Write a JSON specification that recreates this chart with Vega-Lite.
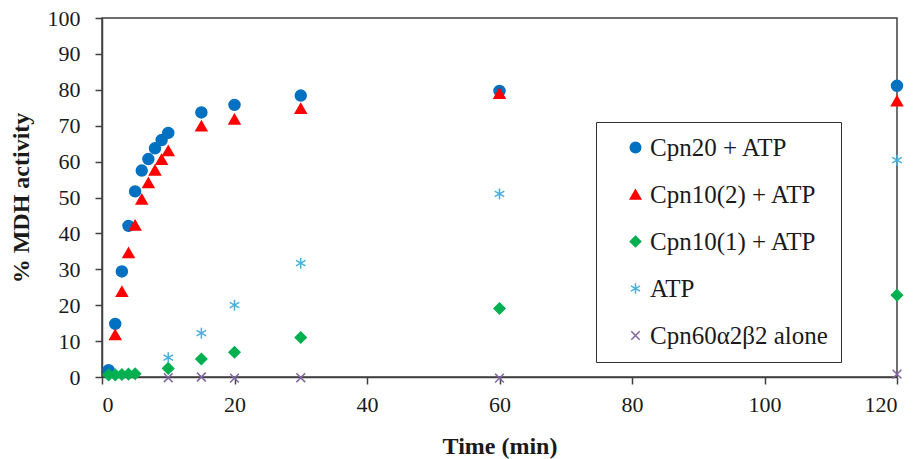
{
  "$schema": "https://vega.github.io/schema/vega-lite/v6.json",
  "width": 795,
  "height": 359,
  "autosize": {"type": "none"},
  "padding": {"left": 102, "top": 18, "right": 22, "bottom": 82},
  "background": "white",
  "config": {
    "font": "Liberation Serif",
    "view": {"stroke": "#404040", "strokeWidth": 1.5},
    "axis": {
      "domainColor": "#404040",
      "domainWidth": 1.5,
      "tickColor": "#404040",
      "tickWidth": 1.5,
      "tickSize": 7,
      "grid": false,
      "labelFont": "Liberation Serif",
      "labelFontSize": 22,
      "labelColor": "#1a1a1a",
      "titleFont": "Liberation Serif",
      "titleFontSize": 24,
      "titleFontWeight": "bold",
      "titleColor": "#1a1a1a"
    },
    "legend": {
      "labelFont": "Liberation Serif",
      "labelFontSize": 25,
      "labelColor": "#1a1a1a"
    }
  },
  "data": {
    "values": [
      {"series": "Cpn20 + ATP", "time": 1, "activity": 1.9},
      {"series": "Cpn20 + ATP", "time": 2, "activity": 14.8},
      {"series": "Cpn20 + ATP", "time": 3, "activity": 29.4},
      {"series": "Cpn20 + ATP", "time": 4, "activity": 42.1},
      {"series": "Cpn20 + ATP", "time": 5, "activity": 51.7},
      {"series": "Cpn20 + ATP", "time": 6, "activity": 57.5},
      {"series": "Cpn20 + ATP", "time": 7, "activity": 60.7},
      {"series": "Cpn20 + ATP", "time": 8, "activity": 63.7},
      {"series": "Cpn20 + ATP", "time": 9, "activity": 66.0},
      {"series": "Cpn20 + ATP", "time": 10, "activity": 68.0},
      {"series": "Cpn20 + ATP", "time": 15, "activity": 73.7},
      {"series": "Cpn20 + ATP", "time": 20, "activity": 75.8},
      {"series": "Cpn20 + ATP", "time": 30, "activity": 78.4},
      {"series": "Cpn20 + ATP", "time": 60, "activity": 79.7},
      {"series": "Cpn20 + ATP", "time": 120, "activity": 81.1},
      {"series": "Cpn10(2) + ATP", "time": 2, "activity": 11.8},
      {"series": "Cpn10(2) + ATP", "time": 3, "activity": 23.8},
      {"series": "Cpn10(2) + ATP", "time": 4, "activity": 34.6},
      {"series": "Cpn10(2) + ATP", "time": 5, "activity": 42.3},
      {"series": "Cpn10(2) + ATP", "time": 6, "activity": 49.5},
      {"series": "Cpn10(2) + ATP", "time": 7, "activity": 54.1},
      {"series": "Cpn10(2) + ATP", "time": 8, "activity": 57.6},
      {"series": "Cpn10(2) + ATP", "time": 9, "activity": 60.6},
      {"series": "Cpn10(2) + ATP", "time": 10, "activity": 63.0},
      {"series": "Cpn10(2) + ATP", "time": 15, "activity": 69.9},
      {"series": "Cpn10(2) + ATP", "time": 20, "activity": 71.8},
      {"series": "Cpn10(2) + ATP", "time": 30, "activity": 74.8},
      {"series": "Cpn10(2) + ATP", "time": 60, "activity": 79.0},
      {"series": "Cpn10(2) + ATP", "time": 120, "activity": 76.9},
      {"series": "Cpn10(1) + ATP", "time": 1, "activity": 0.6},
      {"series": "Cpn10(1) + ATP", "time": 2, "activity": 0.6},
      {"series": "Cpn10(1) + ATP", "time": 3, "activity": 0.7},
      {"series": "Cpn10(1) + ATP", "time": 4, "activity": 0.8},
      {"series": "Cpn10(1) + ATP", "time": 5, "activity": 0.9},
      {"series": "Cpn10(1) + ATP", "time": 10, "activity": 2.4},
      {"series": "Cpn10(1) + ATP", "time": 15, "activity": 5.0},
      {"series": "Cpn10(1) + ATP", "time": 20, "activity": 6.9},
      {"series": "Cpn10(1) + ATP", "time": 30, "activity": 11.0},
      {"series": "Cpn10(1) + ATP", "time": 60, "activity": 19.1},
      {"series": "Cpn10(1) + ATP", "time": 120, "activity": 22.8},
      {"series": "ATP", "time": 10, "activity": 5.4},
      {"series": "ATP", "time": 15, "activity": 12.2},
      {"series": "ATP", "time": 20, "activity": 20.0},
      {"series": "ATP", "time": 30, "activity": 31.7},
      {"series": "ATP", "time": 60, "activity": 51.0},
      {"series": "ATP", "time": 120, "activity": 60.4},
      {"series": "Cpn60α2β2 alone", "time": 10, "activity": -0.2},
      {"series": "Cpn60α2β2 alone", "time": 15, "activity": 0.0},
      {"series": "Cpn60α2β2 alone", "time": 20, "activity": -0.3},
      {"series": "Cpn60α2β2 alone", "time": 30, "activity": -0.2},
      {"series": "Cpn60α2β2 alone", "time": 60, "activity": -0.3},
      {"series": "Cpn60α2β2 alone", "time": 120, "activity": 0.8}
    ]
  },
  "mark": {"type": "point", "size": 120, "strokeWidth": 1.5, "opacity": 1},
  "encoding": {
    "x": {
      "field": "time",
      "type": "quantitative",
      "title": "Time (min)",
      "scale": {"domain": [0, 120], "nice": false, "zero": true},
      "axis": {
        "values": [0, 20, 40, 60, 80, 100, 120],
        "labelPadding": 10,
        "titlePadding": 19
      }
    },
    "y": {
      "field": "activity",
      "type": "quantitative",
      "title": "% MDH activity",
      "scale": {"domain": [0, 100], "nice": false},
      "axis": {
        "values": [0, 10, 20, 30, 40, 50, 60, 70, 80, 90, 100],
        "labelPadding": 15,
        "titlePadding": 14
      }
    },
    "shape": {
      "field": "series",
      "type": "nominal",
      "title": null,
      "scale": {
        "domain": ["Cpn20 + ATP", "Cpn10(2) + ATP", "Cpn10(1) + ATP", "ATP", "Cpn60α2β2 alone"],
        "range": ["circle", "triangle-up", "diamond", "M0,-1L0,1M-0.87,-0.5L0.87,0.5M-0.87,0.5L0.87,-0.5", "M-0.8,-0.8L0.8,0.8M-0.8,0.8L0.8,-0.8"]
      }
    },
    "fill": {
      "field": "series",
      "type": "nominal",
      "title": null,
      "scale": {
        "domain": ["Cpn20 + ATP", "Cpn10(2) + ATP", "Cpn10(1) + ATP", "ATP", "Cpn60α2β2 alone"],
        "range": ["#0070C0", "#FF0000", "#00B050", "#48B0DC", "#8064A2"]
      }
    },
    "stroke": {
      "field": "series",
      "type": "nominal",
      "title": null,
      "scale": {
        "domain": ["Cpn20 + ATP", "Cpn10(2) + ATP", "Cpn10(1) + ATP", "ATP", "Cpn60α2β2 alone"],
        "range": ["#0070C0", "#FF0000", "#00B050", "#48B0DC", "#8064A2"]
      },
      "legend": {
        "orient": "none",
        "legendX": 494,
        "legendY": 104,
        "padding": 13,
        "strokeColor": "#303030",
        "fillColor": "white",
        "rowPadding": 21,
        "symbolSize": 110,
        "symbolStrokeWidth": 1.5,
        "symbolOffset": 14,
        "labelOffset": 2,
        "labelLimit": 400,
        "encode": {
          "legend": {"update": {"strokeWidth": {"value": 1.5}}}
        }
      }
    }
  }
}
